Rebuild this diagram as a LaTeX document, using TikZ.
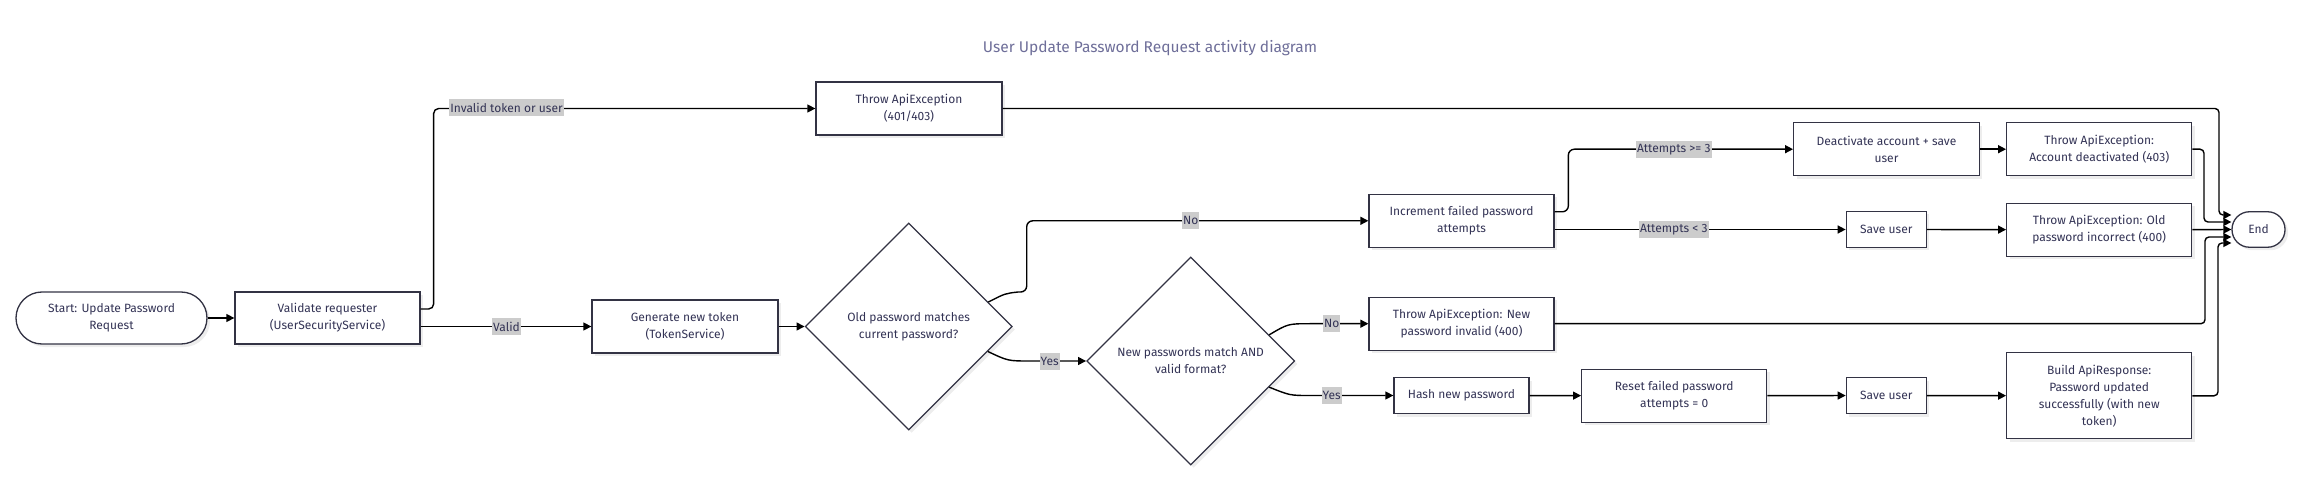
\documentclass[tikz,border=0pt]{standalone}
\usepackage{fontspec}
\setmainfont{Fira Sans}
\usetikzlibrary{arrows.meta,shapes.geometric,shadows,calc}
\definecolor{txt}{HTML}{333355}
\definecolor{bord}{HTML}{333344}
\definecolor{ttl}{HTML}{6E6E99}
\definecolor{lblbg}{HTML}{CCCCCC}
\begin{document}
\begin{tikzpicture}[x=1pt,y=-1pt,
  base/.style={draw=bord, line width=1.3pt, fill=white, text=txt, align=center,
    font=\fontsize{12}{17}\selectfont, inner sep=0pt,
    drop shadow={shadow xshift=3pt,shadow yshift=-3pt,fill=black,opacity=0.07}},
  box/.style={base, rectangle},
  sz/.style 2 args={minimum width=#1pt, minimum height=#2pt},
  pill/.style={base, rectangle, rounded corners=#1pt},
  dia/.style={base, diamond, aspect=1},
  arr/.style={draw=black, line width=1.4pt, -{Triangle[length=8pt,width=8pt]}},
  lbl/.style={fill=lblbg, text=txt, font=\fontsize{12}{14}\selectfont, inner xsep=1pt, inner ysep=0pt, minimum height=17pt}
]
\useasboundingbox (0,0) rectangle (2316,478);

\node[text=ttl, font=\fontsize{15.5}{18}\selectfont] (title) at (1150,48) {User Update Password Request activity diagram};

\node[pill=26, sz={191}{52}] (start) at (111.5,318) {Start: Update Password\\Request};
\node[box, sz={185}{52}] (validate) at (327.5,318) {Validate requester\\(UserSecurityService)};
\node[box, sz={186}{53}] (t401) at (909,108.5) {Throw ApiException\\(401/403)};
\node[box, sz={186}{53}] (gen) at (685,326.5) {Generate new token\\(TokenService)};
\node[dia, minimum width=207pt, minimum height=207pt] (d1) at (908.7,326.5) {Old password matches\\current password?};
\node[box, sz={185}{53}] (incr) at (1461.5,220.8) {Increment failed password\\attempts};
\node[dia, minimum width=208pt, minimum height=208pt] (d2) at (1190.7,361) {New passwords match AND\\valid format?};
\node[box, sz={185}{53}] (tnew) at (1461.5,323.7) {Throw ApiException: New\\password invalid (400)};
\node[box, sz={135}{36}] (hash) at (1461.5,395.5) {Hash new password};
\node[box, sz={185}{53}] (reset) at (1674.2,395.7) {Reset failed password\\attempts = 0};
\node[box, sz={185.6}{53}] (deact) at (1886.5,149.2) {Deactivate account + save\\user};
\node[box, sz={80}{36}] (save1) at (1886.3,229.5) {Save user};
\node[box, sz={80}{36}] (save2) at (1886.3,395.5) {Save user};
\node[box, sz={185}{53}] (tdeact) at (2099.2,149.2) {Throw ApiException:\\Account deactivated (403)};
\node[box, sz={185}{53}] (told) at (2099.2,229.7) {Throw ApiException: Old\\password incorrect (400)};
\node[box, sz={185}{86}] (build) at (2099.2,395.8) {Build ApiResponse:\\Password updated\\successfully (with new\\token)};
\node[pill=17.5, sz={53}{35.5}] (end) at (2258.5,229.5) {End};

% connectors
\draw[arr] (start) -- (validate);
\draw[arr, rounded corners=5pt] ([yshift=9pt]validate.east) -- ++(13,0) |- (t401.west);
\draw[arr] (validate.east |- gen.west) -- (gen.west);
\draw[arr] (gen) -- (d1);
\draw[arr] ($(d1.east)!0.235!(d1.north)$) .. controls (1005,293.5) .. (1018,292) [rounded corners=6pt] -- (1026.7,292) -- (1026.7,220.8) -- (incr.west);
\draw[arr] ($(d1.east)!0.24!(d1.south)$) .. controls (1008,361) .. (1030,361) -- (d2.west);
\draw[arr] ($(d2.east)!0.25!(d2.north)$) .. controls (1288,323.7) .. (1310,323.7) -- (tnew.west);
\draw[arr] ($(d2.east)!0.25!(d2.south)$) .. controls (1290,395.5) .. (1310,395.5) -- (hash.west);
\draw[arr] (hash) -- (reset);
\draw[arr] (reset) -- (save2);
\draw[arr] (save2) -- (build);
\draw[arr, rounded corners=6pt] ([yshift=9pt]incr.east) -- ++(13.7,0) |- (deact.west);
\draw[arr] (incr.east |- save1.west) -- (save1.west);
\draw[arr] (deact) -- (tdeact);
\draw[arr] (save1) -- (told);

\draw[arr, rounded corners=4pt] (t401.east) -- (2219,108.5) -- (2219,215) -- ([yshift=14.5pt]end.west);
\draw[arr, rounded corners=4pt] (tdeact.east) -- (2204,149.2) -- (2204,222) -- ([yshift=7.5pt]end.west);
\draw[arr] (told.east) -- (end.west);
\draw[arr, rounded corners=4pt] (tnew.east) -- (2205,323.7) -- (2205,237) -- ([yshift=-7.5pt]end.west);
\draw[arr, rounded corners=4pt] (build.east) -- (2218,395.8) -- (2218,243) -- ([yshift=-13.5pt]end.west);

% labels
\node[lbl] (l1) at (506.5,108) {Invalid token or user};
\node[lbl] (l2) at (506.5,326.5) {Valid};
\node[lbl] (l3) at (1190.8,220.8) {No};
\node[lbl] (l4) at (1049.7,361) {Yes};
\node[lbl] (l5) at (1331.7,323.7) {No};
\node[lbl] (l6) at (1331.7,395.5) {Yes};
\node[lbl] (l7) at (1673.8,149.2) {Attempts >= 3};
\node[lbl] (l8) at (1673.8,229.5) {Attempts < 3};
\end{tikzpicture}
\end{document}
